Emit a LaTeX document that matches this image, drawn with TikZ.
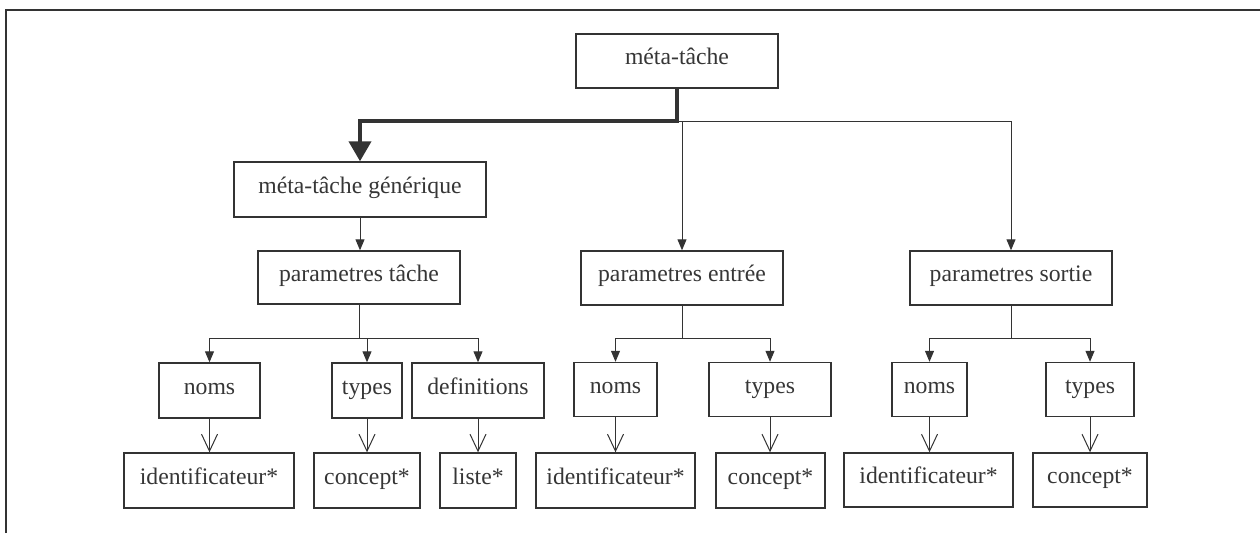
\documentclass[tikz,border=0pt]{standalone}
\usepackage{fontspec}
\setmainfont{Liberation Serif}
\usetikzlibrary{arrows.meta}
\definecolor{ink}{HTML}{333333}
\definecolor{txt}{HTML}{363636}
\tikzset{
  box/.style={draw=ink, line width=1.4pt, inner sep=0pt, text=txt,
    font=\fontsize{23.7}{28}\selectfont, anchor=center,
    text height=0.8em, text depth=0.04em},
  link/.style={draw=ink, line width=1pt, -{Triangle[length=11pt,width=9pt]}},
  openlink/.style={draw=ink, line width=1pt, -{Straight Barb[length=17pt,width=16pt,line width=1pt]}},
  mainlink/.style={draw=ink, line width=4pt, -{Triangle[length=20pt,width=22pt]}},
  wire/.style={draw=ink, line width=1pt},
}
\begin{document}
\begin{tikzpicture}[x=1pt, y=-1pt]
\useasboundingbox (0,0) rectangle (1260,533);
% partial frame
\draw[ink, line width=2.2pt] (6,533) -- (6,10) -- (1260,10);

% boxes
\node[box, minimum width=202pt, minimum height=54pt] (meta) at (677,61) {méta-tâche};
\node[box, minimum width=252pt, minimum height=55pt] (gen) at (360,189.5) {méta-tâche générique};
\node[box, minimum width=202pt, minimum height=53pt] (tache) at (359,277.5) {parametres tâche};
\node[box, minimum width=202pt, minimum height=54pt] (entree) at (682,278) {parametres entrée};
\node[box, minimum width=202pt, minimum height=54pt] (sortie) at (1011,278) {parametres sortie};

\node[box, minimum width=101pt, minimum height=55pt] (nomsA) at (209.5,390.5) {noms};
\node[box, minimum width=70pt, minimum height=55pt] (typesA) at (367,390.5) {types};
\node[box, minimum width=132pt, minimum height=55pt] (defs) at (478,390.5) {definitions};
\node[box, minimum width=83pt, minimum height=54pt] (nomsB) at (615.5,389.5) {noms};
\node[box, minimum width=122pt, minimum height=54pt] (typesB) at (770,389.5) {types};
\node[box, minimum width=75pt, minimum height=54pt] (nomsC) at (929.5,389.5) {noms};
\node[box, minimum width=88pt, minimum height=54pt] (typesC) at (1090,389.5) {types};

\node[box, minimum width=170pt, minimum height=55pt] (idA) at (209,480.5) {identificateur*};
\node[box, minimum width=106pt, minimum height=55pt] (conA) at (367,480.5) {concept*};
\node[box, minimum width=76pt, minimum height=55pt] (liste) at (478,480.5) {liste*};
\node[box, minimum width=159pt, minimum height=55pt] (idB) at (615.5,480.5) {identificateur*};
\node[box, minimum width=109pt, minimum height=55pt] (conB) at (770.5,480.5) {concept*};
\node[box, minimum width=169pt, minimum height=54pt] (idC) at (928.5,480) {identificateur*};
\node[box, minimum width=114pt, minimum height=54pt] (conC) at (1090,480) {concept*};

% junctions
\coordinate (jm) at (677,121);
\coordinate (jt) at (359,338);
\coordinate (je) at (682,338);
\coordinate (js) at (1011,338);

% top level
\draw[wire] (jm) -- (jm -| sortie.north);
\draw[link] (jm -| sortie.north) -- (sortie.north);
\draw[link] (jm -| entree.north) -- (entree.north);
\draw[mainlink] (meta.south) -- (jm) -| (gen.north);
\draw[link] (gen.south) -- (gen.south |- tache.north);

% parametres tache
\draw[wire] (tache.south) -- (jt);
\draw[link] (jt) -| (nomsA.north);
\draw[link] (jt) -| (typesA.north);
\draw[link] (jt) -| (defs.north);

% parametres entree
\draw[wire] (entree.south) -- (je);
\draw[link] (je) -| (nomsB.north);
\draw[link] (je) -| (typesB.north);

% parametres sortie
\draw[wire] (sortie.south) -- (js);
\draw[link] (js) -| (nomsC.north);
\draw[link] (js) -| (typesC.north);

% leaves
\draw[openlink] (nomsA.south) -- (nomsA.south |- idA.north);
\draw[openlink] (typesA.south) -- (typesA.south |- conA.north);
\draw[openlink] (defs.south) -- (defs.south |- liste.north);
\draw[openlink] (nomsB.south) -- (nomsB.south |- idB.north);
\draw[openlink] (typesB.south) -- (typesB.south |- conB.north);
\draw[openlink] (nomsC.south) -- (nomsC.south |- idC.north);
\draw[openlink] (typesC.south) -- (typesC.south |- conC.north);
\end{tikzpicture}
\end{document}
